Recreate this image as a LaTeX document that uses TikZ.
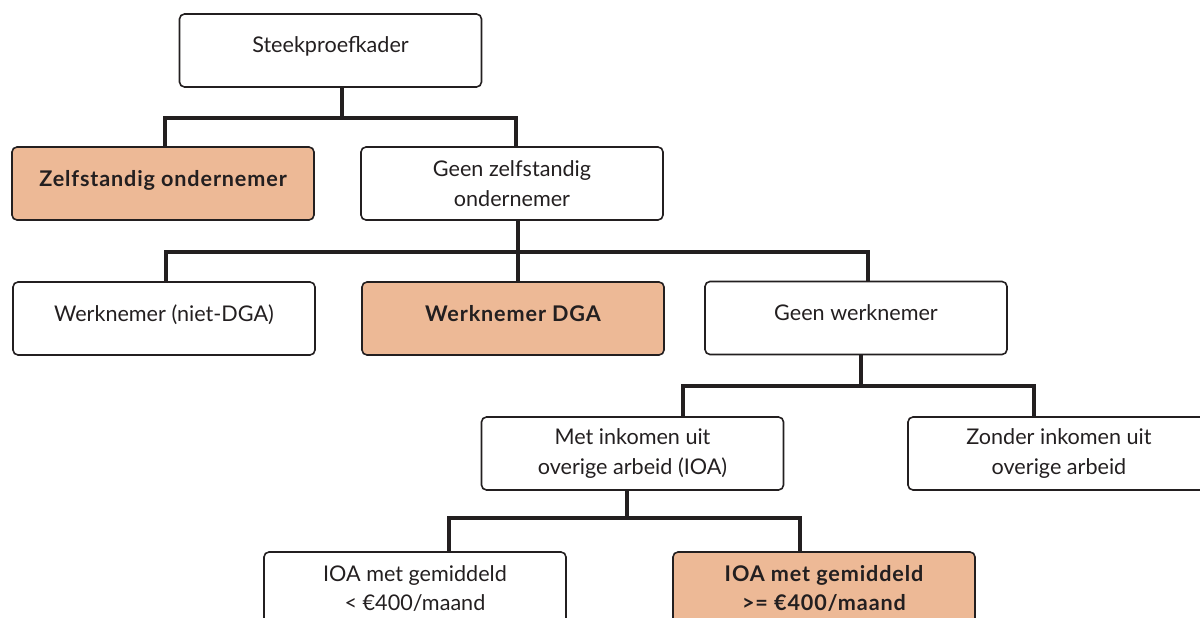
\documentclass[tikz,border=0pt]{standalone}
\usepackage{fontspec}
\setmainfont{Lato}
\usepackage{xcolor}
\usepackage{tikz}
\usetikzlibrary{calc}
\definecolor{peach}{HTML}{EDB996}
\definecolor{ink}{HTML}{231F20}

\begin{document}
\begin{tikzpicture}[x=1pt,y=-1pt,
		box/.style={draw=ink,line width=1.6pt,rounded corners=5pt,minimum width=302pt,minimum height=73pt,inner sep=0pt,align=center,text=ink,font=\fontsize{21.6}{29.5}\selectfont},
		one/.style={text height=16pt,text depth=11pt},
		hl/.style={box,fill=peach,font=\fontsize{21.6}{29.5}\selectfont\bfseries\addfontfeature{LetterSpace=4}},
		conn/.style={draw=ink,line width=4pt}]
				\useasboundingbox (0,0) rectangle (1200,618);
				\clip (0,0) rectangle (1200,618);
				\node[box,one] (top) at (330.5,50.5) {Steekproefkader};
				\node[hl,one] (zelf) at (163,183.5) {Zelfstandig ondernemer};
				\node[box] (geenzelf) at (512,183.5) {Geen zelfstandig\\ondernemer};
				\node[box,one] (wn) at (164,318.5) {Werknemer (niet-DGA)};
				\node[hl,one] (dga) at (513,318.5) {Werknemer DGA};
				\node[box,one] (geenwn) at (856,318) {Geen werknemer};
				\node[box] (met) at (632.5,453.5) {Met inkomen uit\\overige arbeid (IOA)};
				\node[box] (zonder) at (1059,453.5) {Zonder inkomen uit\\overige arbeid};
				\node[box] (lt) at (415,588.5) {IOA met gemiddeld\\< €400/maand};
				\node[hl] (ge) at (824,588.5) {IOA met gemiddeld\\>= €400/maand};
				% connectors
				\draw[conn] ($(top.south)+(11.5,0)$) -- ++(0,30.5) coordinate (b1);
				\draw[conn] ($(zelf.north)+(2,0)$) |- (b1) -| ($(geenzelf.north)+(4,0)$);
				\draw[conn] ($(geenzelf.south)+(6,0)$) -- ($(dga.north)+(5,0)$);
				\coordinate (b2) at ($(geenzelf.south)+(6,31)$);
				\draw[conn] ($(wn.north)+(2,0)$) |- (b2) -| ($(geenwn.north)+(12,0)$);
				\draw[conn] ($(geenwn.south)+(5,0)$) -- ++(0,30.5) coordinate (b3);
				\draw[conn] ($(met.north)+(50.5,0)$) |- (b3) -| ($(zonder.north)+(-25,0)$);
				\draw[conn] ($(met.south)+(-5.5,0)$) -- ++(0,27) coordinate (b4);
				\draw[conn] ($(lt.north)+(34,0)$) |- (b4) -| ($(ge.north)+(-24,0)$);
			\end{tikzpicture}
\end{document}
